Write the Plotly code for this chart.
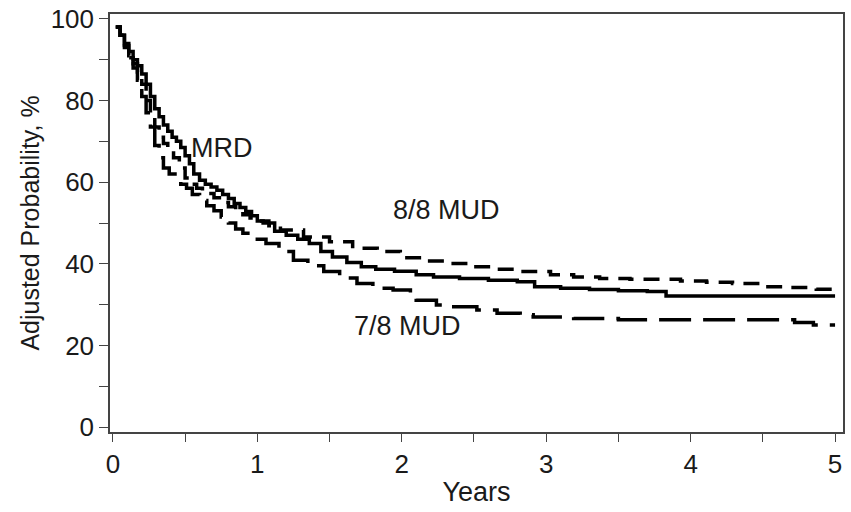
import plotly.graph_objects as go

# Years and adjusted probability (%) for each donor group (step curves)
mrd_x = [0.02,0.05,0.08,0.11,0.14,0.17,0.2,0.23,0.26,0.29,0.32,0.35,0.38,0.41,0.44,0.47,0.5,0.53,0.56,0.6,0.64,0.68,0.72,0.76,0.8,0.84,0.88,0.92,0.96,1.0,
         1.04,1.12,1.2,1.28,1.36,1.44,1.52,1.62,1.72,1.82,1.95,2.1,2.22,2.4,2.6,2.8,2.92,3.1,3.3,3.5,3.7,3.83,5.0]
mrd_y = [98,96,94,92,90,88.5,86.5,84,81,78,76,74,72.5,71,70,68.5,66.5,64.5,62,60.5,59.5,58.8,58,57,56,54.8,53.8,52.8,51.8,50.5,
         50,48,47,46,45,43,41.7,40.3,39.3,38.7,38.2,37.3,36.8,36.4,36,35.6,34.4,34,33.7,33.4,33.2,32.1,32.1]

mud88_x = [0.02,0.05,0.08,0.11,0.14,0.17,0.2,0.23,0.26,0.29,0.32,0.35,0.38,0.42,0.46,0.5,0.54,0.58,0.62,0.66,0.7,0.75,0.8,0.85,0.9,0.95,1.0,1.08,1.16,
           1.32,1.5,1.66,1.83,1.99,2.15,2.31,2.49,2.66,2.84,3.03,3.19,3.37,3.58,3.93,4.11,4.29,4.5,4.69,4.87,5.0]
mud88_y = [98,96,93.5,91,89,87,84,80,77,73.5,71,69.5,68,66,63.5,61,59.5,58.5,57.8,57.2,56.2,55,54,53,52,51.2,50.5,49.3,48.3,
           46.6,45.4,43.8,43,41.5,40.7,40.1,39.3,38.7,38.1,37.3,36.8,36.4,36.2,35.8,35.5,35.2,34.4,34.2,33.8,33.8]

mud78_x = [0.02,0.05,0.08,0.11,0.14,0.17,0.2,0.23,0.26,0.29,0.32,0.35,0.39,0.43,0.47,0.51,0.55,0.6,0.65,0.7,0.75,0.8,0.85,0.9,0.95,1.0,1.06,1.15,1.25,
           1.35,1.46,1.57,1.69,1.8,1.94,2.06,2.1,2.24,2.36,2.52,2.66,2.82,2.91,3.19,3.5,4.72,4.85,5.0]
mud78_y = [98,96,93,90.5,88,85,81,77,73.5,69,66,63.5,62,60.5,59.5,58.5,57,55.5,54.2,53,51.5,50,48.5,47.5,46.7,46,45,43,40.9,
           39.5,38.1,36.5,35.2,34,33.6,32.8,31.1,29.9,29.5,28.7,27.9,27.5,27.0,26.6,26.3,25.6,25.0,25.0]

y_ticks = [0,10,20,30,40,50,60,70,80,90,100]
y_labels = ["0","","20","","40","","60","","80","","100"]
x_ticks = [0,0.5,1,1.5,2,2.5,3,3.5,4,4.5,5]
x_labels = ["0","","1","","2","","3","","4","","5"]

labels = ["MRD", "8/8 MUD", "7/8 MUD"]
label_x = [0.755, 2.313, 2.043]
label_y = [68.4, 53.2, 24.8]

FONT = "Liberation Sans, Arial, sans-serif"
INK = "#1a1a1a"

fig = go.Figure()
fig.add_trace(go.Scatter(x=mud78_x, y=mud78_y, mode="lines", line_shape="hv",
                         line=dict(color="black", width=3.5, dash="32px,12px"), name="7/8 MUD"))
fig.add_trace(go.Scatter(x=mud88_x, y=mud88_y, mode="lines", line_shape="hv",
                         line=dict(color="black", width=3.5, dash="16px,10px"), name="8/8 MUD"))
fig.add_trace(go.Scatter(x=mrd_x, y=mrd_y, mode="lines", line_shape="hv",
                         line=dict(color="black", width=3.5), name="MRD"))

for t, ax, ay in zip(labels, label_x, label_y):
    fig.add_annotation(x=ax, y=ay, text=t, showarrow=False,
                       font=dict(family=FONT, size=27, color=INK))

fig.update_layout(
    width=851, height=512,
    margin=dict(l=110, r=8, t=14, b=80, autoexpand=False),
    paper_bgcolor="white", plot_bgcolor="white",
    showlegend=False,
    font=dict(family=FONT, size=26, color=INK),
)
fig.update_xaxes(range=[-0.02, 5.055], tickvals=x_ticks, ticktext=x_labels,
                 ticks="outside", ticklen=8, tickwidth=1.2, tickcolor="#444",
                 showline=True, linecolor="#444", linewidth=1.5, mirror=True,
                 showgrid=False, zeroline=False, automargin=False,
                 title=dict(text="Years", font=dict(size=27), standoff=4),
                 tickfont=dict(size=26))
fig.update_yaxes(range=[-1.2, 101.2], tickvals=y_ticks, ticktext=y_labels,
                 ticks="outside", ticklen=9, tickwidth=1.2, tickcolor="#444",
                 showline=True, linecolor="#444", linewidth=1.5, mirror=True,
                 showgrid=False, zeroline=False, automargin=False,
                 title=dict(text="Adjusted Probability, %", font=dict(size=25), standoff=4),
                 tickfont=dict(size=26))

fig.write_html("out.html", config={"displayModeBar": False},
               post_script="document.body.style.margin='0';document.body.style.overflow='hidden';")
